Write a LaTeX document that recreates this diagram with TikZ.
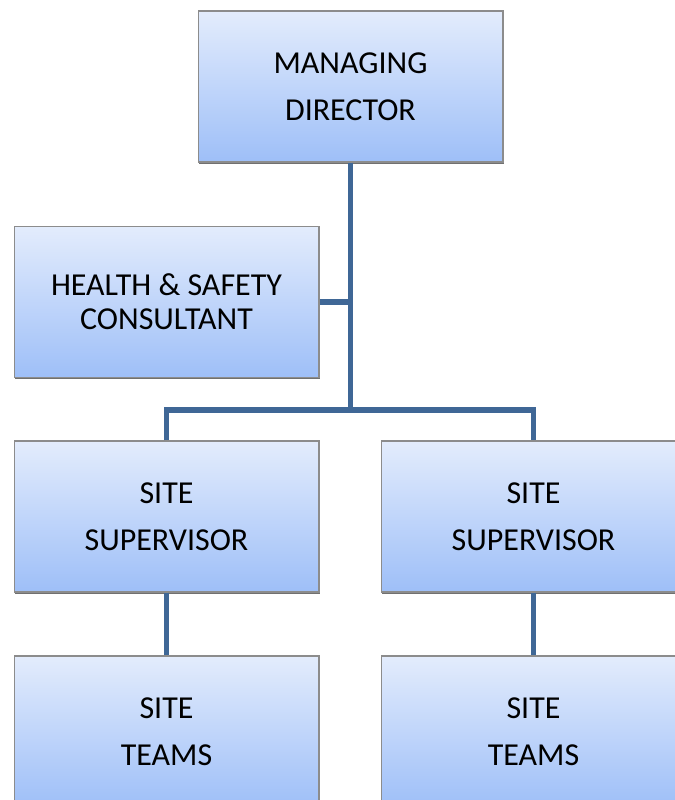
\documentclass[tikz,border=0pt]{standalone}
\usepackage{fontspec}
\setmainfont{Carlito}
\usepackage{tikz}
\usetikzlibrary{shadows}

\definecolor{boxtop}{RGB}{227,236,252}
\definecolor{boxbot}{RGB}{158,191,248}
\definecolor{linkblue}{RGB}{63,103,150}

\begin{document}
\begin{tikzpicture}[
  x=0.02cm, y=-0.02cm,
  box/.style={draw=black!45, line width=0.6pt, top color=boxtop, bottom color=boxbot,
    minimum width=6.1cm, minimum height=3.02cm, align=center, inner sep=0pt,
    drop shadow={shadow xshift=0.7pt, shadow yshift=-0.9pt, fill=black!70, opacity=0.8},
    font=\fontsize{18.2}{27}\selectfont},
  link/.style={draw=linkblue, line width=2.85pt, line join=miter}
]
\useasboundingbox (0,0) rectangle (675,800);
\clip (0,0) rectangle (675,800);

% top
\node[box] (md) at (350.5,86.5) {MANAGING\\DIRECTOR};
\node[box, font=\fontsize{18.2}{19.3}\selectfont] (hs) at (166.5,302) {HEALTH \& SAFETY\\CONSULTANT};

% supervisors and teams
\node[box] (ssl) at (166.5,516.5) {SITE\\SUPERVISOR};
\node[box] (ssr) at (533.5,516.5) {SITE\\SUPERVISOR};
\node[box] (stl) at (166.5,731.5) {SITE\\TEAMS};
\node[box] (str) at (533.5,731.5) {SITE\\TEAMS};

% connectors
\coordinate (split) at (350.5,410);
\draw[link] (md.south) -- (split);
\draw[link] (hs.east) -- (hs.east -| md.south);
\draw[link] (ssl.north) |- (split) -| (ssr.north);
\draw[link] (ssl.south) -- (stl.north);
\draw[link] (ssr.south) -- (str.north);

\end{tikzpicture}
\end{document}
